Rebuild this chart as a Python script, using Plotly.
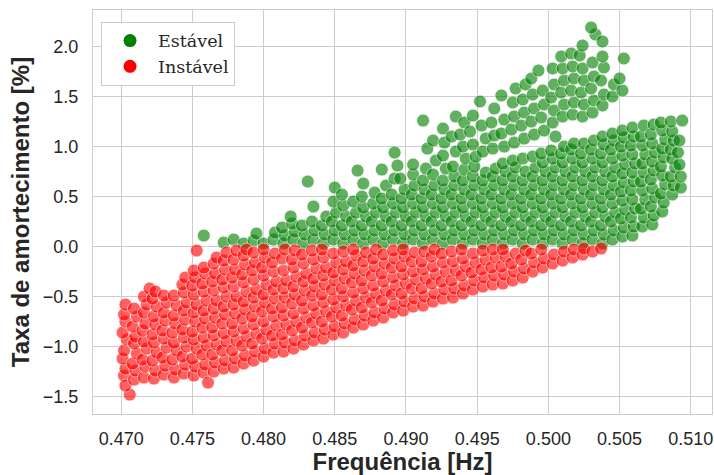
import plotly.graph_objects as go

# Pontos (frequência [Hz], taxa de amortecimento [%])
instavel = [
    (0.4702,-1.29),(0.4703,-1.22),(0.4701,-1.12),(0.4702,-1.04),(0.4704,-0.93),(0.4701,-0.86),(0.4703,-0.75),(0.4702,-0.68),(0.4703,-0.58),(0.4706,-1.48),(0.4703,-1.39),
    (0.4709,-1.33),(0.4710,-1.24),(0.4708,-1.17),(0.4711,-1.07),(0.4709,-0.97),(0.4710,-0.90),(0.4708,-0.80),(0.4711,-0.70),(0.4709,-0.62),
    (0.4716,-1.31),(0.4717,-1.20),(0.4715,-1.13),(0.4718,-1.02),(0.4716,-0.95),(0.4715,-0.84),(0.4717,-0.77),(0.4716,-0.66),(0.4718,-0.58),(0.4716,-0.50),(0.4720,-0.42),
    (0.4723,-1.32),(0.4724,-1.24),(0.4722,-1.14),(0.4725,-1.06),(0.4723,-0.96),(0.4722,-0.88),(0.4724,-0.78),(0.4723,-0.70),(0.4725,-0.60),(0.4722,-0.52),(0.4724,-0.45),
    (0.4730,-1.28),(0.4731,-1.19),(0.4729,-1.11),(0.4732,-1.01),(0.4730,-0.92),(0.4729,-0.84),(0.4731,-0.74),(0.4730,-0.66),(0.4732,-0.56),(0.4730,-0.49),
    (0.4737,-1.31),(0.4738,-1.23),(0.4736,-1.13),(0.4739,-1.04),(0.4737,-0.96),(0.4736,-0.86),(0.4738,-0.77),(0.4737,-0.69),(0.4739,-0.59),(0.4737,-0.49),
    (0.4744,-1.27),(0.4745,-1.18),(0.4743,-1.10),(0.4746,-1.00),(0.4744,-0.91),(0.4743,-0.83),(0.4745,-0.73),(0.4744,-0.64),(0.4746,-0.56),(0.4744,-0.46),(0.4743,-0.38),(0.4745,-0.31),
    (0.4751,-1.29),(0.4752,-1.20),(0.4750,-1.12),(0.4753,-1.02),(0.4751,-0.93),(0.4750,-0.85),(0.4752,-0.75),(0.4751,-0.66),(0.4753,-0.58),(0.4751,-0.48),(0.4750,-0.39),(0.4752,-0.31),(0.4751,-0.24),(0.4753,-0.04),
    (0.4758,-1.26),(0.4759,-1.18),(0.4757,-1.08),(0.4760,-0.99),(0.4758,-0.91),(0.4757,-0.81),(0.4759,-0.72),(0.4758,-0.64),(0.4760,-0.54),(0.4758,-0.45),(0.4757,-0.37),(0.4759,-0.27),(0.4758,-0.21),(0.4761,-1.36),
    (0.4765,-1.25),(0.4766,-1.16),(0.4764,-1.08),(0.4767,-0.98),(0.4765,-0.89),(0.4764,-0.81),(0.4766,-0.71),(0.4765,-0.62),(0.4767,-0.54),(0.4765,-0.44),(0.4764,-0.35),(0.4766,-0.27),(0.4765,-0.17),(0.4767,-0.11),
    (0.4772,-1.22),(0.4773,-1.14),(0.4771,-1.04),(0.4774,-0.95),(0.4772,-0.87),(0.4771,-0.77),(0.4773,-0.68),(0.4772,-0.60),(0.4774,-0.50),(0.4772,-0.41),(0.4771,-0.33),(0.4773,-0.23),(0.4772,-0.14),(0.4774,-0.06),
    (0.4779,-1.21),(0.4780,-1.12),(0.4778,-1.04),(0.4781,-0.94),(0.4779,-0.85),(0.4778,-0.77),(0.4780,-0.67),(0.4779,-0.58),(0.4781,-0.50),(0.4779,-0.40),(0.4778,-0.31),(0.4780,-0.23),(0.4779,-0.13),(0.4781,-0.04),
    (0.4786,-1.17),(0.4787,-1.09),(0.4785,-0.99),(0.4788,-0.90),(0.4786,-0.82),(0.4785,-0.72),(0.4787,-0.63),(0.4786,-0.55),(0.4788,-0.45),(0.4786,-0.36),(0.4785,-0.28),(0.4787,-0.18),(0.4786,-0.09),(0.4788,-0.03),
    (0.4793,-1.14),(0.4794,-1.05),(0.4792,-0.97),(0.4795,-0.87),(0.4793,-0.78),(0.4792,-0.70),(0.4794,-0.60),(0.4793,-0.51),(0.4795,-0.43),(0.4793,-0.33),(0.4792,-0.24),(0.4794,-0.16),(0.4793,-0.06),
    (0.4800,-1.10),(0.4801,-1.02),(0.4799,-0.92),(0.4802,-0.83),(0.4800,-0.75),(0.4799,-0.65),(0.4801,-0.56),(0.4800,-0.48),(0.4802,-0.38),(0.4800,-0.29),(0.4799,-0.21),(0.4801,-0.11),(0.4800,-0.03),
    (0.4807,-1.06),(0.4808,-0.97),(0.4806,-0.89),(0.4809,-0.79),(0.4807,-0.70),(0.4806,-0.62),(0.4808,-0.52),(0.4807,-0.43),(0.4809,-0.35),(0.4807,-0.25),(0.4806,-0.16),(0.4808,-0.07),
    (0.4814,-1.05),(0.4815,-0.96),(0.4813,-0.88),(0.4816,-0.78),(0.4814,-0.69),(0.4813,-0.61),(0.4815,-0.51),(0.4814,-0.42),(0.4816,-0.34),(0.4814,-0.24),(0.4813,-0.12),(0.4815,-0.03),
    (0.4821,-1.02),(0.4822,-0.94),(0.4820,-0.84),(0.4823,-0.75),(0.4821,-0.67),(0.4820,-0.57),(0.4822,-0.48),(0.4821,-0.40),(0.4823,-0.30),(0.4821,-0.21),(0.4820,-0.13),(0.4822,-0.04),
    (0.4828,-0.98),(0.4829,-0.89),(0.4827,-0.81),(0.4830,-0.71),(0.4828,-0.62),(0.4827,-0.54),(0.4829,-0.44),(0.4828,-0.35),(0.4830,-0.27),(0.4828,-0.17),(0.4827,-0.08),
    (0.4835,-0.94),(0.4836,-0.86),(0.4834,-0.76),(0.4837,-0.67),(0.4835,-0.59),(0.4834,-0.49),(0.4836,-0.40),(0.4835,-0.32),(0.4837,-0.22),(0.4835,-0.13),(0.4834,-0.04),
    (0.4842,-0.92),(0.4843,-0.83),(0.4841,-0.75),(0.4844,-0.65),(0.4842,-0.56),(0.4841,-0.48),(0.4843,-0.38),(0.4842,-0.29),(0.4844,-0.21),(0.4842,-0.11),(0.4841,-0.03),
    (0.4849,-0.88),(0.4850,-0.80),(0.4848,-0.70),(0.4851,-0.61),(0.4849,-0.53),(0.4848,-0.43),(0.4850,-0.34),(0.4849,-0.26),(0.4851,-0.16),(0.4849,-0.07),
    (0.4856,-0.86),(0.4857,-0.77),(0.4855,-0.69),(0.4858,-0.59),(0.4856,-0.50),(0.4855,-0.42),(0.4857,-0.32),(0.4856,-0.23),(0.4858,-0.15),(0.4856,-0.05),
    (0.4863,-0.81),(0.4864,-0.73),(0.4862,-0.63),(0.4865,-0.54),(0.4863,-0.46),(0.4862,-0.36),(0.4864,-0.27),(0.4863,-0.19),(0.4865,-0.09),(0.4863,-0.03),
    (0.4870,-0.78),(0.4871,-0.69),(0.4869,-0.61),(0.4872,-0.51),(0.4870,-0.42),(0.4869,-0.34),(0.4871,-0.24),(0.4870,-0.15),(0.4872,-0.06),
    (0.4877,-0.74),(0.4878,-0.66),(0.4876,-0.56),(0.4879,-0.47),(0.4877,-0.39),(0.4876,-0.29),(0.4878,-0.20),(0.4877,-0.12),(0.4879,-0.03),
    (0.4884,-0.71),(0.4885,-0.62),(0.4883,-0.54),(0.4886,-0.44),(0.4884,-0.35),(0.4883,-0.27),(0.4885,-0.17),(0.4884,-0.08),
    (0.4891,-0.66),(0.4892,-0.58),(0.4890,-0.48),(0.4893,-0.39),(0.4891,-0.31),(0.4890,-0.21),(0.4892,-0.12),(0.4891,-0.04),
    (0.4898,-0.64),(0.4899,-0.55),(0.4897,-0.47),(0.4900,-0.37),(0.4898,-0.28),(0.4897,-0.20),(0.4899,-0.10),(0.4898,-0.03),
    (0.4905,-0.60),(0.4906,-0.52),(0.4904,-0.42),(0.4907,-0.33),(0.4905,-0.25),(0.4904,-0.15),(0.4906,-0.06),
    (0.4912,-0.59),(0.4913,-0.50),(0.4911,-0.42),(0.4914,-0.32),(0.4912,-0.23),(0.4911,-0.15),(0.4913,-0.05),
    (0.4919,-0.55),(0.4920,-0.47),(0.4918,-0.37),(0.4921,-0.28),(0.4919,-0.20),(0.4918,-0.10),(0.4920,-0.03),
    (0.4926,-0.52),(0.4927,-0.43),(0.4925,-0.35),(0.4928,-0.25),(0.4926,-0.16),(0.4925,-0.07),
    (0.4933,-0.51),(0.4934,-0.42),(0.4932,-0.34),(0.4935,-0.24),(0.4933,-0.15),(0.4932,-0.05),
    (0.4940,-0.47),(0.4941,-0.39),(0.4939,-0.29),(0.4942,-0.20),(0.4940,-0.12),(0.4939,-0.03),
    (0.4947,-0.43),(0.4948,-0.34),(0.4946,-0.26),(0.4949,-0.16),(0.4947,-0.07),
    (0.4954,-0.40),(0.4955,-0.31),(0.4953,-0.23),(0.4956,-0.13),(0.4954,-0.04),
    (0.4961,-0.38),(0.4962,-0.29),(0.4960,-0.21),(0.4963,-0.11),(0.4961,-0.03),
    (0.4968,-0.37),(0.4969,-0.28),(0.4967,-0.20),(0.4970,-0.10),(0.4968,-0.03),
    (0.4975,-0.34),(0.4976,-0.25),(0.4974,-0.17),(0.4977,-0.07),
    (0.4982,-0.31),(0.4983,-0.22),(0.4981,-0.13),(0.4984,-0.04),
    (0.4989,-0.25),(0.4990,-0.16),(0.4988,-0.07),
    (0.4996,-0.21),(0.4997,-0.12),(0.4995,-0.03),
    (0.5003,-0.17),(0.5004,-0.08),
    (0.5010,-0.14),(0.5011,-0.05),
    (0.5017,-0.11),(0.5018,-0.03),
    (0.5024,-0.08),(0.5025,-0.02),
    (0.5031,-0.05),
    (0.5037,-0.02),
]

estavel = [
    (0.4758,0.11),(0.4772,0.04),(0.4779,0.07),(0.4786,0.03),(0.4793,0.06),(0.4795,0.13),(0.4800,0.03),(0.4807,0.07),(0.4808,0.14),
    (0.4814,0.03),(0.4815,0.11),(0.4813,0.19),(0.4821,0.07),(0.4822,0.15),(0.4820,0.23),(0.4819,0.30),(0.4828,0.03),(0.4829,0.12),(0.4827,0.21),
    (0.4835,0.07),(0.4836,0.16),(0.4834,0.25),(0.4835,0.40),(0.4831,0.65),(0.4842,0.03),(0.4843,0.12),(0.4841,0.21),(0.4844,0.30),
    (0.4849,0.07),(0.4850,0.16),(0.4848,0.25),(0.4851,0.34),(0.4849,0.45),(0.4850,0.59),
    (0.4856,0.03),(0.4857,0.12),(0.4855,0.21),(0.4858,0.30),(0.4856,0.41),(0.4855,0.52),
    (0.4863,0.07),(0.4864,0.16),(0.4862,0.25),(0.4865,0.34),(0.4863,0.45),
    (0.4870,0.03),(0.4871,0.12),(0.4869,0.21),(0.4872,0.30),(0.4870,0.39),(0.4869,0.50),(0.4870,0.63),(0.4866,0.76),
    (0.4877,0.07),(0.4878,0.16),(0.4876,0.25),(0.4879,0.34),(0.4877,0.43),(0.4878,0.54),
    (0.4884,0.03),(0.4885,0.12),(0.4883,0.21),(0.4886,0.30),(0.4884,0.39),(0.4883,0.48),(0.4886,0.61),(0.4883,0.77),
    (0.4891,0.07),(0.4892,0.16),(0.4890,0.25),(0.4893,0.34),(0.4891,0.43),(0.4890,0.52),(0.4892,0.68),(0.4892,0.94),
    (0.4898,0.03),(0.4899,0.12),(0.4897,0.21),(0.4900,0.30),(0.4898,0.39),(0.4897,0.48),(0.4899,0.57),(0.4896,0.68),(0.4894,0.81),
    (0.4905,0.07),(0.4906,0.16),(0.4904,0.25),(0.4907,0.34),(0.4905,0.43),(0.4904,0.52),(0.4906,0.61),(0.4905,0.72),(0.4905,0.82),
    (0.4912,0.03),(0.4913,0.12),(0.4911,0.21),(0.4914,0.30),(0.4912,0.39),(0.4911,0.48),(0.4913,0.57),(0.4912,0.66),(0.4914,0.78),(0.4915,0.98),(0.4912,1.26),
    (0.4919,0.07),(0.4920,0.16),(0.4918,0.25),(0.4921,0.34),(0.4919,0.43),(0.4918,0.52),(0.4920,0.61),(0.4919,0.72),(0.4921,0.86),(0.4919,1.06),
    (0.4926,0.03),(0.4927,0.12),(0.4925,0.21),(0.4928,0.30),(0.4926,0.39),(0.4925,0.48),(0.4927,0.57),(0.4926,0.66),(0.4928,0.78),(0.4926,0.91),(0.4927,1.04),(0.4926,1.18),
    (0.4933,0.07),(0.4934,0.16),(0.4932,0.25),(0.4935,0.34),(0.4933,0.43),(0.4932,0.52),(0.4934,0.61),(0.4934,0.70),(0.4933,0.80),(0.4935,0.95),(0.4932,1.10),(0.4935,1.30),
    (0.4940,0.03),(0.4941,0.12),(0.4939,0.21),(0.4942,0.30),(0.4940,0.39),(0.4939,0.48),(0.4941,0.57),(0.4940,0.66),(0.4941,0.77),(0.4942,0.88),(0.4940,1.00),(0.4938,1.12),(0.4941,1.24),
    (0.4947,0.07),(0.4948,0.16),(0.4946,0.25),(0.4949,0.34),(0.4947,0.43),(0.4946,0.52),(0.4948,0.61),(0.4947,0.70),(0.4948,0.80),(0.4949,0.90),(0.4947,1.02),(0.4945,1.15),(0.4947,1.31),
    (0.4954,0.03),(0.4955,0.12),(0.4953,0.21),(0.4956,0.30),(0.4954,0.39),(0.4953,0.48),(0.4955,0.57),(0.4954,0.66),(0.4956,0.74),(0.4954,0.95),(0.4956,1.08),(0.4953,1.21),(0.4952,1.45),
    (0.4961,0.07),(0.4962,0.16),(0.4960,0.25),(0.4963,0.34),(0.4961,0.43),(0.4960,0.52),(0.4962,0.61),(0.4961,0.70),(0.4963,0.78),(0.4961,0.98),(0.4962,1.11),(0.4960,1.24),(0.4962,1.38),
    (0.4968,0.03),(0.4969,0.12),(0.4967,0.21),(0.4970,0.30),(0.4968,0.39),(0.4967,0.48),(0.4969,0.57),(0.4968,0.66),(0.4970,0.75),(0.4968,0.83),(0.4969,1.00),(0.4967,1.13),(0.4969,1.27),(0.4967,1.51),
    (0.4975,0.07),(0.4976,0.16),(0.4974,0.25),(0.4977,0.34),(0.4975,0.43),(0.4974,0.52),(0.4976,0.61),(0.4975,0.70),(0.4977,0.79),(0.4975,0.86),(0.4976,1.04),(0.4974,1.17),(0.4976,1.30),(0.4975,1.44),(0.4977,1.58),
    (0.4982,0.03),(0.4983,0.12),(0.4981,0.21),(0.4984,0.30),(0.4982,0.39),(0.4981,0.48),(0.4983,0.57),(0.4982,0.66),(0.4984,0.75),(0.4982,0.88),(0.4983,1.08),(0.4981,1.21),(0.4983,1.34),(0.4982,1.47),(0.4984,1.62),
    (0.4989,0.07),(0.4990,0.16),(0.4988,0.25),(0.4991,0.34),(0.4989,0.43),(0.4988,0.52),(0.4990,0.61),(0.4989,0.70),(0.4991,0.79),(0.4989,0.90),(0.4990,1.12),(0.4988,1.25),(0.4990,1.38),(0.4989,1.52),(0.4988,1.68),
    (0.4996,0.03),(0.4997,0.12),(0.4995,0.21),(0.4998,0.30),(0.4996,0.39),(0.4995,0.48),(0.4997,0.57),(0.4996,0.66),(0.4998,0.75),(0.4996,0.84),(0.4995,0.93),(0.4997,1.16),(0.4995,1.29),(0.4997,1.42),(0.4996,1.56),(0.4993,1.76),
    (0.5003,0.07),(0.5004,0.16),(0.5002,0.25),(0.5005,0.34),(0.5003,0.43),(0.5002,0.52),(0.5004,0.61),(0.5003,0.70),(0.5005,0.79),(0.5003,0.88),(0.5002,0.96),(0.5005,1.10),(0.5003,1.24),(0.5004,1.36),(0.5002,1.49),(0.5004,1.62),(0.5003,1.78),
    (0.5010,0.03),(0.5011,0.12),(0.5009,0.21),(0.5012,0.30),(0.5010,0.39),(0.5009,0.48),(0.5011,0.57),(0.5010,0.66),(0.5012,0.75),(0.5010,0.84),(0.5009,0.93),(0.5011,1.00),(0.5010,1.30),(0.5011,1.42),(0.5009,1.54),(0.5011,1.66),(0.5010,1.78),(0.5009,1.90),
    (0.5017,0.07),(0.5018,0.16),(0.5016,0.25),(0.5019,0.34),(0.5017,0.43),(0.5016,0.52),(0.5018,0.61),(0.5017,0.70),(0.5019,0.79),(0.5017,0.88),(0.5016,0.97),(0.5018,1.03),(0.5017,1.32),(0.5018,1.44),(0.5016,1.56),(0.5018,1.68),(0.5017,1.80),(0.5016,1.93),
    (0.5024,0.03),(0.5025,0.12),(0.5023,0.21),(0.5026,0.30),(0.5024,0.39),(0.5023,0.48),(0.5025,0.57),(0.5024,0.66),(0.5026,0.75),(0.5024,0.84),(0.5023,0.93),(0.5025,1.03),(0.5024,1.30),(0.5025,1.42),(0.5023,1.54),(0.5025,1.66),(0.5024,1.78),(0.5022,1.91),(0.5024,2.01),
    (0.5031,0.07),(0.5032,0.16),(0.5030,0.25),(0.5033,0.34),(0.5031,0.43),(0.5030,0.52),(0.5032,0.61),(0.5031,0.70),(0.5033,0.79),(0.5031,0.88),(0.5030,0.97),(0.5032,1.06),(0.5031,1.34),(0.5032,1.46),(0.5030,1.58),(0.5032,1.70),(0.5031,1.84),(0.5033,2.12),(0.5030,2.19),
    (0.5038,0.03),(0.5039,0.12),(0.5037,0.21),(0.5040,0.30),(0.5038,0.39),(0.5037,0.48),(0.5039,0.57),(0.5038,0.66),(0.5040,0.75),(0.5038,0.84),(0.5037,0.93),(0.5039,1.02),(0.5038,1.10),(0.5038,1.41),(0.5039,1.52),(0.5037,1.66),(0.5039,1.79),(0.5038,1.90),(0.5038,2.05),
    (0.5045,0.07),(0.5046,0.16),(0.5044,0.25),(0.5047,0.34),(0.5045,0.43),(0.5044,0.52),(0.5046,0.61),(0.5045,0.70),(0.5047,0.79),(0.5045,0.88),(0.5044,0.97),(0.5046,1.06),(0.5045,1.13),(0.5045,1.50),(0.5046,1.62),
    (0.5052,0.10),(0.5053,0.19),(0.5051,0.28),(0.5054,0.37),(0.5052,0.46),(0.5051,0.55),(0.5053,0.64),(0.5052,0.73),(0.5054,0.82),(0.5052,0.91),(0.5051,1.00),(0.5053,1.09),(0.5052,1.16),(0.5052,1.56),(0.5050,1.68),(0.5053,1.88),
    (0.5059,0.11),(0.5060,0.20),(0.5058,0.29),(0.5061,0.38),(0.5059,0.47),(0.5058,0.56),(0.5060,0.65),(0.5059,0.74),(0.5061,0.83),(0.5059,0.92),(0.5058,1.01),(0.5060,1.10),(0.5059,1.19),
    (0.5066,0.20),(0.5067,0.29),(0.5065,0.38),(0.5068,0.47),(0.5066,0.56),(0.5065,0.65),(0.5067,0.74),(0.5066,0.83),(0.5068,0.92),(0.5066,1.01),(0.5065,1.10),(0.5067,1.21),
    (0.5073,0.22),(0.5074,0.31),(0.5072,0.40),(0.5075,0.49),(0.5073,0.58),(0.5072,0.67),(0.5074,0.76),(0.5073,0.85),(0.5075,0.94),(0.5073,1.03),(0.5072,1.12),(0.5074,1.22),
    (0.5080,0.35),(0.5081,0.44),(0.5079,0.53),(0.5082,0.62),(0.5080,0.71),(0.5079,0.80),(0.5081,0.89),(0.5080,0.98),(0.5082,1.07),(0.5080,1.16),(0.5079,1.24),
    (0.5087,0.52),(0.5088,0.61),(0.5086,0.70),(0.5089,0.79),(0.5087,0.88),(0.5086,0.97),(0.5088,1.06),(0.5087,1.15),(0.5086,1.25),
    (0.5093,0.59),(0.5093,0.70),(0.5092,0.82),(0.5091,0.94),(0.5092,1.06),(0.5094,1.26),
]

freq_estavel = [p[0] for p in estavel]
amort_estavel = [p[1] for p in estavel]
freq_instavel = [p[0] for p in instavel]
amort_instavel = [p[1] for p in instavel]

x_ticks = [0.470, 0.475, 0.480, 0.485, 0.490, 0.495, 0.500, 0.505, 0.510]
y_ticks = [-1.5, -1.0, -0.5, 0.0, 0.5, 1.0, 1.5, 2.0]

VERDE = "#008000"
VERMELHO = "#ff0000"
TXT = "#262626"
GRID = "#cccccc"

fig = go.Figure()
for nome, xs, ys, cor in [("Estável", freq_estavel, amort_estavel, VERDE),
                          ("Instável", freq_instavel, amort_instavel, VERMELHO)]:
    fig.add_trace(go.Scatter(
        x=xs, y=ys, mode="markers", name=nome, showlegend=False,
        marker=dict(size=13, color=cor, opacity=0.62,
                    line=dict(color="white", width=0.8)),
        hoverinfo="skip"))
for nome, cor in [("Estável", VERDE), ("Instável", VERMELHO)]:
    fig.add_trace(go.Scatter(
        x=[None], y=[None], mode="markers", name=nome,
        marker=dict(size=13, color=cor)))

fig.update_layout(
    width=714, height=475,
    margin=dict(l=93, r=2, t=10, b=61),
    paper_bgcolor="white", plot_bgcolor="white",
    font=dict(family="Liberation Sans", color=TXT),
    legend=dict(x=0.013, y=0.971, xanchor="left", yanchor="top",
                bgcolor="white", bordercolor=GRID, borderwidth=1,
                itemwidth=46,
                font=dict(family="DejaVu Serif", size=17.5, color=TXT)),
)
fig.update_xaxes(
    range=[0.46802, 0.51149], tickvals=x_ticks, tickformat=".3f",
    showgrid=True, gridcolor=GRID, gridwidth=1, zeroline=False,
    showline=True, linecolor=GRID, linewidth=1.2, mirror=True,
    ticks="outside", ticklen=8, tickcolor="rgba(0,0,0,0)",
    tickfont=dict(size=18, color=TXT),
    title=dict(text="Frequência [Hz]", standoff=6,
               font=dict(size=24, color=TXT, weight="bold")))
fig.update_yaxes(
    range=[-1.674, 2.365], tickvals=y_ticks, tickformat=".1f",
    showgrid=True, gridcolor=GRID, gridwidth=1, zeroline=False,
    showline=True, linecolor=GRID, linewidth=1.2, mirror=True,
    ticks="outside", ticklen=10, tickcolor="rgba(0,0,0,0)",
    tickfont=dict(size=18, color=TXT),
    title=dict(text="Taxa de amortecimento [%]", standoff=6,
               font=dict(size=24, color=TXT, weight="bold")))

fig.write_html("out.html")
